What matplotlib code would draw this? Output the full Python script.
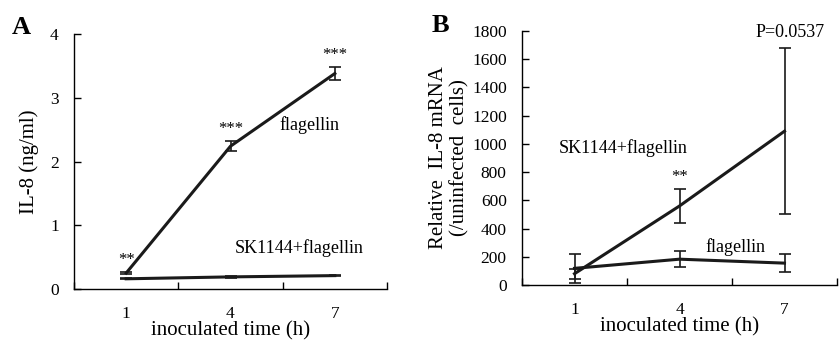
import matplotlib.pyplot as plt

plt.rcParams['font.family'] = ['Liberation Serif', 'DejaVu Serif']

times = ['1', '4', '7']
xpos = [1, 2, 3]

# panel A: IL-8 protein (ng/ml)
a_flag = [0.25, 2.24, 3.38]
a_flag_err = [0.02, 0.08, 0.10]
a_sk = [0.16, 0.19, 0.21]
a_sk_err = [0.01, 0.01, 0.01]
a_stars = ['**', '***', '***']

# panel B: relative IL-8 mRNA
b_sk = [80, 560, 1090]
b_sk_err = [35, 120, 590]
b_flag = [118, 183, 155]
b_flag_err = [105, 55, 65]

W, H = 839, 340
fig = plt.figure(figsize=(W / 100, H / 100), dpi=100)

axA = fig.add_axes([74 / W, 1 - 289 / H, 313 / W, 255 / H])
axB = fig.add_axes([522 / W, 1 - 285 / H, 315 / W, 254 / H])


def style(ax):
    ax.set_xlim(0.5, 3.5)
    ax.spines['top'].set_visible(False)
    ax.spines['right'].set_visible(False)
    ax.set_xticks(xpos)
    ax.set_xticklabels(times, fontsize=12.5)
    ax.set_xticks([0.5, 1.5, 2.5, 3.5], minor=True)
    ax.tick_params(axis='x', which='major', length=0, pad=12)
    ax.tick_params(axis='x', which='minor', direction='in', length=5, width=1)
    ax.tick_params(axis='y', direction='in', length=5, width=1, labelsize=12.5, pad=11)
    ax.set_xlabel('inoculated time (h)', fontsize=15, labelpad=0)
    for s in ax.spines.values():
        s.set_linewidth(1)


# panel A
axA.errorbar(xpos, a_flag, yerr=a_flag_err, color='#1a1a1a', lw=2.2, capsize=4, elinewidth=1.2, capthick=1.2)
axA.errorbar(xpos, a_sk, yerr=a_sk_err, color='#1a1a1a', lw=2.2, capsize=4, elinewidth=1.2, capthick=1.2)
axA.set_ylim(0, 4)
axA.set_yticks([0, 1, 2, 3, 4])
style(axA)
axA.set_ylabel('IL-8 (ng/ml)', fontsize=15, labelpad=8)
for x, y, e, s in zip(xpos, a_flag, a_flag_err, a_stars):
    axA.text(x, y + e + 0.06, s, ha='center', va='bottom', fontsize=12)
axA.text(2.76, 2.57, 'flagellin', ha='center', va='center', fontsize=13)
axA.text(2.66, 0.64, 'SK1144+flagellin', ha='center', va='center', fontsize=13)

# panel B
axB.errorbar(xpos, b_sk, yerr=b_sk_err, color='#1a1a1a', lw=2.2, capsize=4, elinewidth=1.2, capthick=1.2)
axB.errorbar(xpos, b_flag, yerr=b_flag_err, color='#1a1a1a', lw=2.2, capsize=4, elinewidth=1.2, capthick=1.2)
axB.set_ylim(0, 1800)
axB.set_yticks(range(0, 1801, 200))
style(axB)
axB.set_ylabel('Relative  IL-8 mRNA\n(/uninfected  cells)', fontsize=15, labelpad=2, linespacing=1.15)
axB.text(3.05, 1786, 'P=0.0537', ha='center', va='center', fontsize=13)
axB.text(1.46, 971, 'SK1144+flagellin', ha='center', va='center', fontsize=13)
axB.text(2.0, b_sk[1] + b_sk_err[1] + 30, '**', ha='center', va='bottom', fontsize=12)
axB.text(2.53, 269, 'flagellin', ha='center', va='center', fontsize=13)

fig.text(21 / W, 1 - 28 / H, 'A', fontsize=19, fontweight='bold', ha='center', va='center')
fig.text(440 / W, 1 - 25 / H, 'B', fontsize=19, fontweight='bold', ha='center', va='center')

fig.savefig('out.png', dpi=100)
